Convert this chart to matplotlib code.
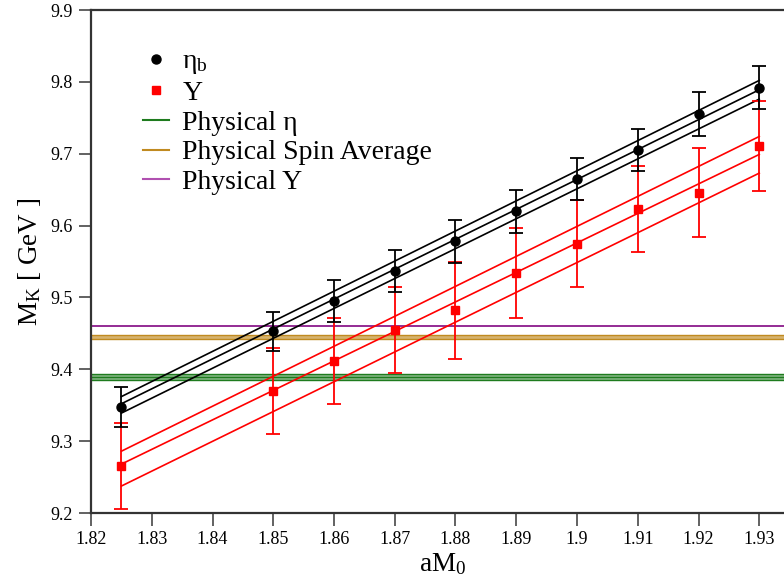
import matplotlib
matplotlib.use("Agg")
import matplotlib.pyplot as plt
from matplotlib.lines import Line2D
import numpy as np

plt.rcParams['font.family'] = ['Liberation Serif', 'DejaVu Serif']
plt.rcParams['mathtext.fontset'] = 'custom'
plt.rcParams['mathtext.rm'] = 'Liberation Serif'
plt.rcParams['mathtext.it'] = 'Liberation Serif:italic'

# ---- data ----
aM0 = [1.825, 1.85, 1.86, 1.87, 1.88, 1.89, 1.90, 1.91, 1.92, 1.93]
eta_b = [9.348, 9.453, 9.495, 9.537, 9.578, 9.620, 9.665, 9.705, 9.755, 9.792]
eta_b_err = [0.028, 0.027, 0.029, 0.029, 0.030, 0.030, 0.029, 0.029, 0.031, 0.030]
upsilon = [9.265, 9.370, 9.412, 9.455, 9.482, 9.534, 9.575, 9.623, 9.646, 9.711]
upsilon_err = [0.060, 0.060, 0.060, 0.060, 0.067, 0.062, 0.061, 0.060, 0.062, 0.063]

fit_x = [1.825, 1.93]
eta_fit_upper = [9.362, 9.802]
eta_fit_central = [9.352, 9.789]
eta_fit_lower = [9.339, 9.776]
ups_fit_upper = [9.286, 9.724]
ups_fit_central = [9.268, 9.699]
ups_fit_lower = [9.2375, 9.673]

phys_eta = [9.3854, 9.3890, 9.3929]     # lower, central, upper
phys_spin_avg = [9.4420, 9.4448, 9.4476]
phys_upsilon = 9.4605

xticks = [1.82, 1.83, 1.84, 1.85, 1.86, 1.87, 1.88, 1.89, 1.90, 1.91, 1.92, 1.93]
xticklabels = ['1.82', '1.83', '1.84', '1.85', '1.86', '1.87', '1.88', '1.89', '1.9', '1.91', '1.92', '1.93']
yticks = [9.2, 9.3, 9.4, 9.5, 9.6, 9.7, 9.8, 9.9]
yticklabels = ['9.2', '9.3', '9.4', '9.5', '9.6', '9.7', '9.8', '9.9']

GREEN = '#1e7b1e'
ORANGE = '#c08a20'
PURPLE = '#8b1a8b'

fig = plt.figure(figsize=(7.84, 5.86), dpi=100)
ax = fig.add_axes([91/784, 1 - 513/586, 729/784, 503/586])
ax.set_xlim(1.82, 1.94)
ax.set_ylim(9.2, 9.9)

# physical bands
ax.axhspan(phys_eta[0], phys_eta[2], color=GREEN, alpha=0.55, lw=0)
for v in phys_eta:
    ax.axhline(v, color=GREEN, lw=1.0)
ax.axhspan(phys_spin_avg[0], phys_spin_avg[2], color=ORANGE, alpha=0.65, lw=0)
for v in (phys_spin_avg[0], phys_spin_avg[2]):
    ax.axhline(v, color=ORANGE, lw=1.0)
ax.axhline(phys_upsilon, color=PURPLE, lw=1.3)

# fit lines
for f in (eta_fit_upper, eta_fit_central, eta_fit_lower):
    ax.plot(fit_x, f, color='black', lw=1.2)
for f in (ups_fit_upper, ups_fit_central, ups_fit_lower):
    ax.plot(fit_x, f, color='red', lw=1.2)

# data
ax.errorbar(aM0, upsilon, yerr=upsilon_err, fmt='s', color='red', ms=5.5,
            capsize=5, elinewidth=1.3, capthick=1.3, zorder=5)
ax.errorbar(aM0, eta_b, yerr=eta_b_err, fmt='o', color='black', ms=6.5,
            capsize=5, elinewidth=1.3, capthick=1.3, zorder=6)

ax.set_xticks(xticks)
ax.set_xticklabels(xticklabels)
ax.set_yticks(yticks)
ax.set_yticklabels(yticklabels)
ax.tick_params(axis='both', direction='out', length=9, width=1.3, color='#555555',
               labelsize=13, pad=4)
for s in ('left', 'bottom', 'top'):
    ax.spines[s].set_linewidth(1.6)
    ax.spines[s].set_color('#333333')
ax.spines['right'].set_visible(False)

ax.set_xlabel('aM$_0$', fontsize=19.5, labelpad=0)
ax.xaxis.set_label_coords(0.482, -0.075)
ax.set_ylabel('M$_\\mathrm{K}$ [ GeV ]', fontsize=19.5)
ax.yaxis.set_label_coords(-0.066, 0.5)

handles = [
    Line2D([], [], ls='none', marker='o', color='black', ms=6.5),
    Line2D([], [], ls='none', marker='s', color='red', ms=5.5),
    Line2D([], [], color=GREEN, lw=1.5),
    Line2D([], [], color=ORANGE, lw=1.5),
    Line2D([], [], color='#b050b0', lw=1.5),
]
labels = ['η$_\\mathrm{b}$', 'Υ', 'Physical η', 'Physical Spin Average', 'Physical Υ']
fig.legend(handles, labels, loc='upper left', bbox_to_anchor=(143/784, 1 - 49/586),
           frameon=False, fontsize=20, handlelength=0.95, handletextpad=0.47,
           labelspacing=0.15, borderpad=0, borderaxespad=0)

fig.savefig('out.png', dpi=100)
